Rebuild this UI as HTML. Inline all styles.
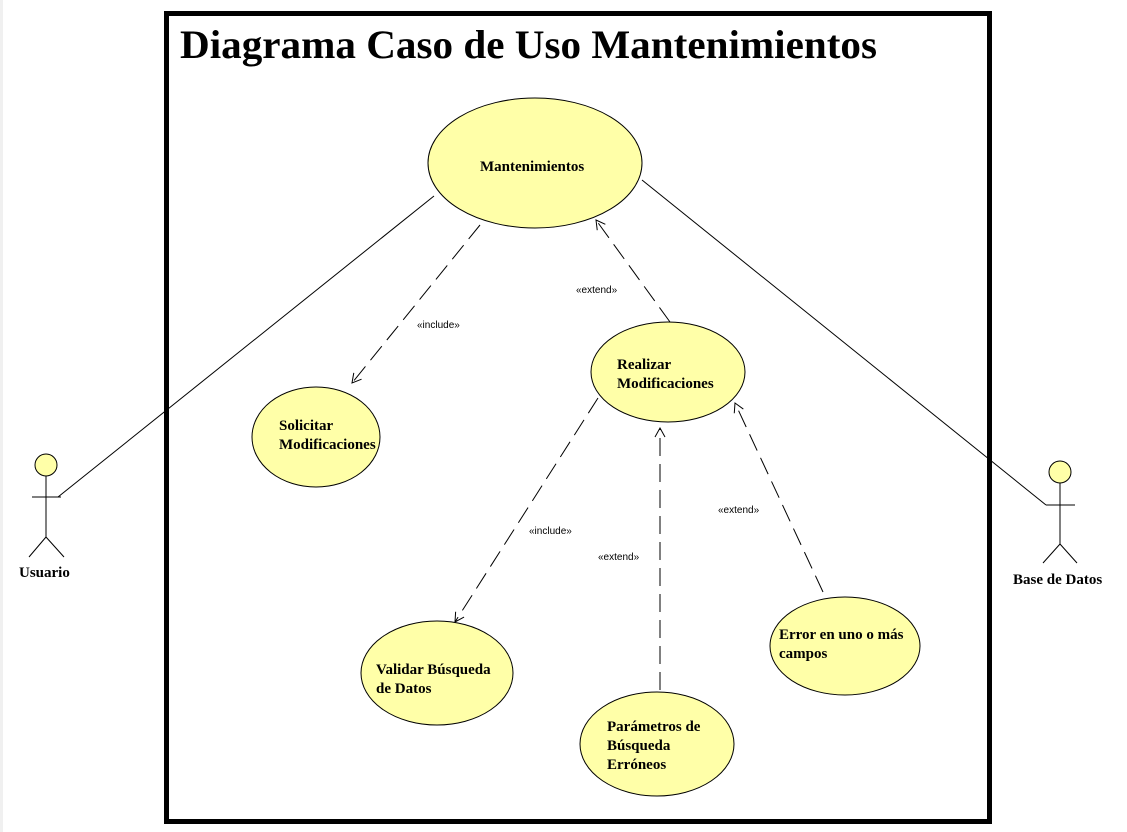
<!DOCTYPE html>
<html><head><meta charset="utf-8"><style>
html,body{margin:0;padding:0;background:#fff;width:1127px;height:832px;overflow:hidden}
svg{display:block}
.t{font-family:"Liberation Serif",serif;font-weight:bold;font-size:15px;fill:#000}
.s{font-family:"Liberation Sans",sans-serif;font-size:10px;fill:#000}
</style></head><body>
<svg width="1127" height="832" viewBox="0 0 1127 832">
<rect x="0" y="0" width="3" height="832" fill="#f0f0f0"/>
<rect x="166.5" y="13.5" width="823" height="808" fill="#fff" stroke="#000" stroke-width="5"/>
<text x="180" y="58" font-family="Liberation Serif,serif" font-weight="bold" font-size="40" fill="#000" textLength="697" lengthAdjust="spacingAndGlyphs">Diagrama Caso de Uso Mantenimientos</text>
<defs><marker id="a" markerWidth="12" markerHeight="12" refX="10" refY="6" orient="auto" markerUnits="userSpaceOnUse"><path d="M1,1 L10,6 L1,11" fill="none" stroke="#000" stroke-width="1"/></marker></defs>
<g stroke="#000" stroke-width="1" fill="none">
<line x1="434" y1="196" x2="58" y2="497"/>
<line x1="642" y1="180" x2="1046" y2="505"/>
<g stroke-dasharray="18,8" marker-end="url(#a)">
<line x1="480" y1="225" x2="352" y2="383"/>
<line x1="670" y1="322" x2="596" y2="220"/>
<line x1="598" y1="398" x2="455" y2="622"/>
<line x1="660" y1="690" x2="660" y2="428"/>
<line x1="823" y1="592" x2="735" y2="403"/>
</g>
</g>
<g fill="#ffffa8" stroke="#000" stroke-width="1">
<ellipse cx="535" cy="163" rx="107" ry="65"/>
<ellipse cx="316" cy="437" rx="64" ry="50"/>
<ellipse cx="668" cy="372" rx="77" ry="50"/>
<ellipse cx="437" cy="673" rx="76" ry="52"/>
<ellipse cx="657" cy="744" rx="77" ry="52"/>
<ellipse cx="845" cy="646" rx="75" ry="49"/>
<circle cx="46" cy="465" r="11"/>
<circle cx="1060" cy="472" r="11"/>
</g>
<g stroke="#000" stroke-width="1" fill="none">
<path d="M46,476 V537 M32,497 H61 M46,537 L29,557 M46,537 L64,557"/>
<path d="M1060,483 V544 M1046,505 H1075 M1060,544 L1043,563 M1060,544 L1077,563"/>
</g>
<text class="t" x="480" y="171">Mantenimientos</text>
<text class="t" x="279" y="430">Solicitar</text>
<text class="t" x="279" y="449">Modificaciones</text>
<text class="t" x="617" y="369">Realizar</text>
<text class="t" x="617" y="388">Modificaciones</text>
<text class="t" x="376" y="674">Validar Búsqueda</text>
<text class="t" x="376" y="693">de Datos</text>
<text class="t" x="607" y="731">Parámetros de</text>
<text class="t" x="607" y="750">Búsqueda</text>
<text class="t" x="607" y="769">Erróneos</text>
<text class="t" x="779" y="639">Error en uno o más</text>
<text class="t" x="779" y="658">campos</text>
<text class="t" x="19" y="577">Usuario</text>
<text class="t" x="1013" y="584">Base de Datos</text>
<text class="s" x="417" y="328">«include»</text>
<text class="s" x="576" y="293">«extend»</text>
<text class="s" x="529" y="534">«include»</text>
<text class="s" x="598" y="560">«extend»</text>
<text class="s" x="718" y="513">«extend»</text>
</svg>
</body></html>
